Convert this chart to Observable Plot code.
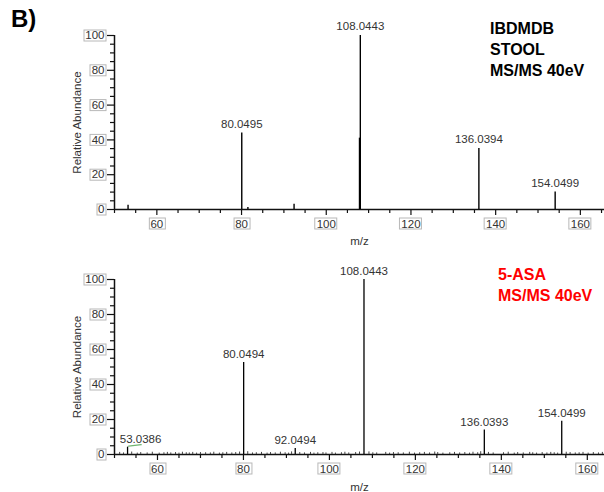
<!DOCTYPE html>
<html>
<head>
<meta charset="utf-8">
<script src="https://cdn.jsdelivr.net/npm/d3@7"></script>
<script src="https://cdn.jsdelivr.net/npm/@observablehq/plot@0.6"></script>
<style>
  html, body { margin: 0; padding: 0; background: #fff; }
  #wrap { position: relative; width: 604px; height: 492px; overflow: hidden; font-family: "Liberation Sans", Arial, sans-serif; }
  .panel { position: absolute; left: 0; }
  .note { position: absolute; font-weight: bold; font-size: 16px; line-height: 21px; white-space: nowrap; }
  #tag { position: absolute; left: 11px; top: 5px; font-weight: bold; font-size: 24px; }
</style>
</head>
<body>
<div id="wrap">
  <div id="tag">B)</div>
  <div id="top" class="panel" style="top:0px"></div>
  <div id="bottom" class="panel" style="top:245px"></div>
  <div class="note" style="left:490px; top:18px; color:#000">IBDMDB<br>STOOL<br>MS/MS 40eV</div>
  <div class="note" style="left:498px; top:264px; color:#ff0000">5-ASA<br>MS/MS 40eV</div>
</div>
<script>
// ---- data ----
const majorXTicks = [60, 80, 100, 120, 140, 160];
const minorXTicks = [50, 55, 65, 70, 75, 85, 90, 95, 105, 110, 115, 125, 130, 135, 145, 150, 155, 165];
const majorYTicks = [0, 20, 40, 60, 80, 100];
const minorYTicks = [5, 10, 15, 25, 30, 35, 45, 50, 55, 65, 70, 75, 85, 90, 95];

// IBDMDB stool spectrum
const stoolMz    = [53.2, 80.0495, 81.5, 92.4, 107.85, 108.0443, 136.0394, 154.0499];
const stoolAbund = [2.5,  44,      1.2,  3,    41,     100,      35,       10];
const stoolLabelMz    = [80.0495, 108.0443, 136.0394, 154.0499];
const stoolLabelAbund = [44, 100, 35, 10];
const stoolLabelText  = ["80.0495", "108.0443", "136.0394", "154.0499"];

// 5-ASA standard spectrum
const asaMz    = [53.0386, 80.0494, 92.0494, 108.0443, 136.0393, 154.0499];
const asaAbund = [4.2,     52.6,    3.5,     100,      14,       19];
const asaLabelMz    = [80.0494, 92.0494, 108.0443, 136.0393, 154.0499];
const asaLabelAbund = [52.6, 3.5, 100, 14, 19];
const asaLabelText  = ["80.0494", "92.0494", "108.0443", "136.0393", "154.0499"];
const asaSideLabelMz = [53.0386];
const asaSideLabelAbund = [4.2];
const asaSideLabelText = ["53.0386"];
const asaNoiseMz = [51.2, 52.1, 54.0, 55.3, 56.1, 57.6, 58.8, 60.4, 61.5, 62.3, 63.1, 64.2, 65.0, 65.8, 66.7, 67.4, 68.2, 69.1, 70.0, 71.2, 72.3, 73.1, 74.4, 75.2, 76.1, 77.3, 78.2, 79.1, 81.0, 82.1, 83.0, 84.2, 85.5, 86.3, 87.4, 88.6, 89.7, 90.5, 91.2, 93.1, 94.2, 95.6, 96.4, 97.3, 98.5, 99.2, 100.6, 101.4, 102.8, 103.6, 104.5, 106.1, 107.0, 109.2, 110.1, 111.0, 113.1, 114.0, 114.9, 116.0, 117.2, 118.6, 119.8, 121.0, 122.1, 123.3, 124.5, 125.2, 126.4, 128.0, 129.1, 130.3, 131.5, 132.6, 133.4, 134.5, 135.2, 137.0, 138.1, 140.5, 141.6, 143.0, 143.8, 145.1, 146.6, 147.3, 148.2, 149.5, 150.6, 151.5, 152.3, 153.1, 155.1, 156.0, 157.2, 158.1, 159.0, 160.2, 161.4, 162.6, 163.5];
const asaNoiseAbund = [1.2, 0.9, 1.4, 0.8, 1.1, 0.9, 1.3, 0.8, 1.0, 1.2, 0.9, 1.1, 0.8, 1.3, 1.0, 0.9, 1.2, 0.8, 1.1, 1.0, 0.9, 1.3, 0.8, 1.0, 1.2, 0.9, 1.1, 1.4, 1.6, 0.9, 1.0, 1.2, 0.8, 1.1, 0.9, 1.3, 1.0, 0.8, 1.5, 1.1, 0.9, 1.2, 0.8, 1.0, 1.1, 0.9, 1.2, 0.8, 1.0, 1.3, 0.9, 1.1, 1.4, 1.5, 1.0, 0.9, 1.2, 0.8, 1.1, 1.0, 0.9, 1.3, 0.8, 1.0, 1.2, 0.9, 1.4, 1.1, 0.8, 1.0, 1.2, 0.9, 1.1, 0.8, 1.3, 1.0, 1.6, 1.2, 0.9, 1.0, 1.3, 0.8, 1.1, 0.9, 1.2, 1.0, 0.8, 1.1, 0.9, 1.2, 1.0, 0.8, 1.3, 1.1, 0.9, 1.0, 1.2, 0.8, 1.1, 0.9, 1.2];
const asaMarkMz = [53.3, 56.2];
const asaMarkAbund = [4.8, 5.6];

const yLabel = "Relative Abundance";
const xLabel = "m/z";

// ---- helpers ----
const FONT = "Liberation Sans, Arial, sans-serif";
const zip = (xs, ys, extra) => xs.map((x, i) => ({mz: x, ab: ys[i], label: extra ? extra[i] : null}));

function axesMarks(labelDy) {
  return [
    Plot.axisX({ticks: minorXTicks, tickSize: 4, text: null, label: null, stroke: "#111", strokeWidth: 1.2}),
    Plot.axisX({ticks: majorXTicks, tickSize: 6, tickPadding: 4, label: null, fontSize: 11.5, stroke: "#111", fill: "#333", strokeWidth: 1.2, ariaLabel: "boxed"}),
    Plot.axisY({ticks: minorYTicks, tickSize: 4, text: null, label: null, stroke: "#111", strokeWidth: 1.2}),
    Plot.axisY({ticks: majorYTicks, tickSize: 7, tickPadding: 3, label: null, fontSize: 11.5, stroke: "#111", fill: "#333", strokeWidth: 1.2, ariaLabel: "boxed"}),
    Plot.ruleY([0], {stroke: "#111", strokeWidth: 1.5}),
    Plot.ruleX([50], {y1: 0, y2: 100, stroke: "#111", strokeWidth: 1.5}),
    Plot.text([yLabel], {text: d => d, frameAnchor: "left", textAnchor: "middle", lineAnchor: "middle", rotate: -90, dx: -37, fontSize: 11.5, fill: "#333", ariaLabel: "boxed"}),
    Plot.text([xLabel], {text: d => d, frameAnchor: "bottom", textAnchor: "middle", lineAnchor: "middle", dy: labelDy, fontSize: 11.5, fill: "#333", ariaLabel: "boxed"})
  ];
}

function boxTexts(svg) {
  const texts = [];
  svg.querySelectorAll('g').forEach(g => {
    const lab = g.getAttribute("aria-label") || "";
    if (lab.includes("tick label") || lab.includes("boxed")) {
      g.querySelectorAll("text").forEach(t => texts.push(t));
    }
  });
  texts.forEach(t => {
    const b = t.getBBox();
    if (!b.width) return;
    const r = document.createElementNS("http://www.w3.org/2000/svg", "rect");
    r.setAttribute("x", Math.round(b.x - 2) + 0.5);
    r.setAttribute("y", Math.round(b.y) + 0.5);
    r.setAttribute("width", Math.round(b.width + 3));
    r.setAttribute("height", Math.round(b.height - 1));
    r.setAttribute("fill", "#fff");
    r.setAttribute("stroke", "#b8b8b8");
    r.setAttribute("stroke-width", "1");
    const tr = t.getAttribute("transform");
    if (tr) r.setAttribute("transform", tr);
    t.parentNode.insertBefore(r, t);
  });
}

// ---- top panel ----
const topPlot = Plot.plot({
  width: 604, height: 245,
  marginTop: 35, marginBottom: 36, marginLeft: 114, marginRight: 0,
  style: {fontFamily: FONT, background: "transparent", overflow: "visible"},
  x: {domain: [50, 165.7]},
  y: {domain: [0, 100]},
  marks: [
    ...axesMarks(32),
    Plot.ruleX(zip(stoolMz, stoolAbund), {x: "mz", y1: 0, y2: "ab", stroke: "#000", strokeWidth: 1.4}),
    Plot.text(zip(stoolLabelMz, stoolLabelAbund, stoolLabelText), {x: "mz", y: "ab", text: "label", dy: -9, fontSize: 11.5, fill: "#333", ariaLabel: "peak"})
  ]
});
document.getElementById("top").appendChild(topPlot);

// ---- bottom panel ----
const bottomPlot = Plot.plot({
  width: 604, height: 247,
  marginTop: 34, marginBottom: 38, marginLeft: 114, marginRight: 0,
  style: {fontFamily: FONT, background: "transparent", overflow: "visible"},
  x: {domain: [50, 164]},
  y: {domain: [0, 100]},
  marks: [
    ...axesMarks(33),
    Plot.ruleX(zip(asaNoiseMz, asaNoiseAbund), {x: "mz", y1: 0, y2: "ab", stroke: "#444", strokeWidth: 1}),
    Plot.ruleX(zip(asaMz, asaAbund), {x: "mz", y1: 0, y2: "ab", stroke: "#000", strokeWidth: 1.3}),
    Plot.line(zip(asaMarkMz, asaMarkAbund), {x: "mz", y: "ab", stroke: "#6fb56f", strokeWidth: 1.3}),
    Plot.text(zip(asaLabelMz, asaLabelAbund, asaLabelText), {x: "mz", y: "ab", text: "label", dy: -8, fontSize: 11.5, fill: "#333", ariaLabel: "peak"}),
    Plot.text(zip(asaSideLabelMz, asaSideLabelAbund, asaSideLabelText), {x: "mz", y: "ab", text: "label", dy: -8, dx: 13, fontSize: 11.5, fill: "#333", ariaLabel: "peak"})
  ]
});
document.getElementById("bottom").appendChild(bottomPlot);

[topPlot, bottomPlot].forEach(svg => {
  svg.querySelectorAll('g[aria-label="peak"] text').forEach(t => t.setAttribute("letter-spacing", "0.6"));
  boxTexts(svg);
});
</script>
</body>
</html>
